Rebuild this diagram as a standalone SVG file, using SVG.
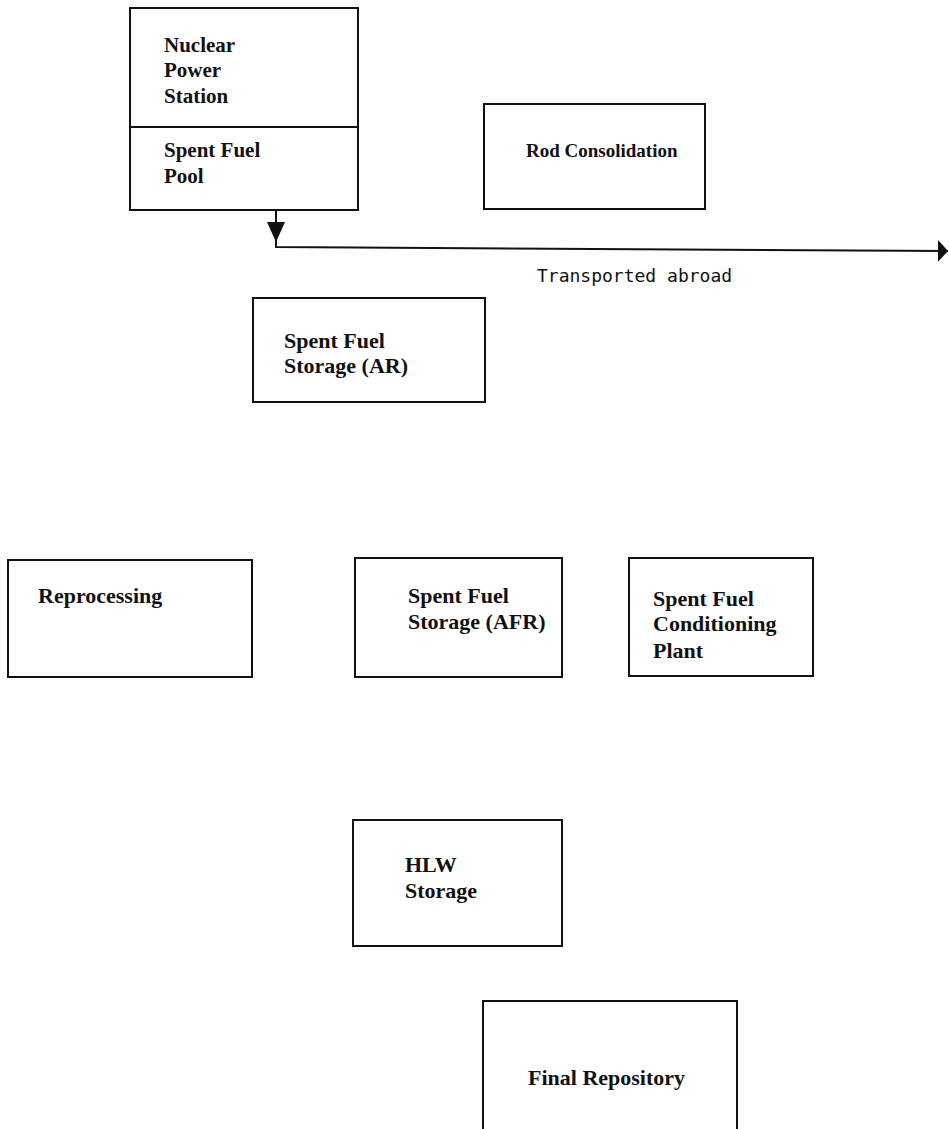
<svg xmlns="http://www.w3.org/2000/svg" width="949" height="1129" viewBox="0 0 949 1129">
<style>
.box{fill:none;stroke:#111;stroke-width:2}
.t{font-family:"Liberation Serif","Times New Roman",serif;font-size:22px;font-weight:bold;fill:#111}
.s{font-size:21px}
.r{font-size:19px}
.m{font-family:"DejaVu Sans Mono","Liberation Mono",monospace;font-size:18px;fill:#111}
.c{fill:none;stroke:#111;stroke-width:2}
</style>
<defs>
<marker id="ahDown" viewBox="0 0 20 18" refX="20" refY="9" markerWidth="20" markerHeight="18" markerUnits="userSpaceOnUse" orient="auto">
<path d="M0,0 L20,9 L0,18 z" fill="#111"/>
</marker>
<marker id="ahBig" viewBox="0 0 10 22" refX="10" refY="11" markerWidth="10" markerHeight="22" markerUnits="userSpaceOnUse" orient="auto">
<path d="M0,0 L10,11 L0,22 z" fill="#111"/>
</marker>
</defs>
<rect width="949" height="1129" fill="#fff"/>
<g id="nuclear-power-station">
<rect class="box" x="130" y="8" width="228" height="202"/>
<line class="box" x1="130" y1="127" x2="358" y2="127"/>
<text class="t s" x="164" y="52">Nuclear</text>
<text class="t s" x="164" y="77">Power</text>
<text class="t s" x="164" y="103">Station</text>
<text class="t s" x="164" y="157">Spent Fuel</text>
<text class="t s" x="164" y="183">Pool</text>
</g>
<g id="rod-consolidation">
<rect class="box" x="484" y="104" width="221" height="105"/>
<text class="t r" x="526" y="157">Rod Consolidation</text>
</g>
<g id="storage-ar">
<rect class="box" x="253" y="298" width="232" height="104"/>
<text class="t" x="284" y="348">Spent Fuel</text>
<text class="t" x="284" y="373">Storage (AR)</text>
</g>
<g id="reprocessing">
<rect class="box" x="8" y="560" width="244" height="117"/>
<text class="t" x="38" y="603">Reprocessing</text>
</g>
<g id="storage-afr">
<rect class="box" x="355" y="558" width="207" height="119"/>
<text class="t" x="408" y="603">Spent Fuel</text>
<text class="t" x="408" y="629">Storage (AFR)</text>
</g>
<g id="conditioning-plant">
<rect class="box" x="629" y="558" width="184" height="118"/>
<text class="t" x="653" y="606">Spent Fuel</text>
<text class="t" x="653" y="631">Conditioning</text>
<text class="t" x="653" y="658">Plant</text>
</g>
<g id="hlw-storage">
<rect class="box" x="353" y="820" width="209" height="126"/>
<text class="t" x="405" y="872">HLW</text>
<text class="t" x="405" y="898">Storage</text>
</g>
<g id="final-repository">
<rect class="box" x="483" y="1001" width="254" height="140"/>
<text class="t" x="528" y="1085">Final Repository</text>
</g>
<g id="connectors">
<path class="c" d="M276,210 V242" marker-end="url(#ahDown)"/>
<path class="c" d="M276,240 V247 L948,251" marker-end="url(#ahBig)"/>
<text class="m" x="537" y="282">Transported abroad</text>
</g>
</svg>
